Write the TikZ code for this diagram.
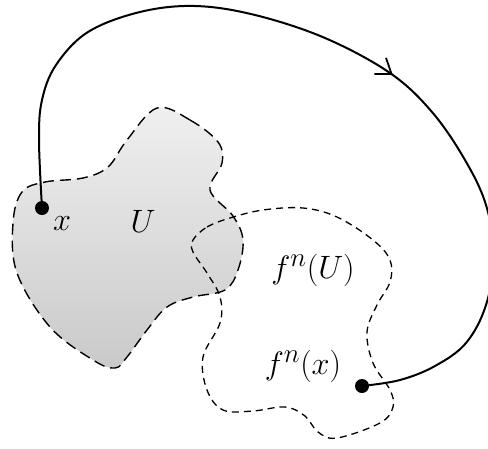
\documentclass[tikz,border=0pt]{standalone}
\usetikzlibrary{arrows.meta,decorations.markings}
\begin{document}
\begin{tikzpicture}[x=1pt,y=-1pt,
  regionU/.style={draw=black, line width=1.4pt, dash pattern=on 11pt off 6pt, top color=gray!12, bottom color=gray!42},
  regionF/.style={draw=black, line width=1.3pt, dash pattern=on 7pt off 5pt},
  dotnode/.style={circle, fill=black, inner sep=0pt, minimum size=14pt},
  lbl/.style={font=\Huge, scale=1.3, inner sep=0pt},
  orbit/.style={line width=2pt, postaction=decorate, decoration={markings, mark=at position 0.55 with {\arrow{Straight Barb[length=14pt,width=20pt,line width=1.8pt]}}}}]
\useasboundingbox (0,0) rectangle (488,448);
% region U
\path[regionU] plot[smooth cycle, tension=0.6] coordinates {
  (157,108) (190,120) (218,142) (222,163) (210,190) (233,216) (243,240)
  (238,270) (225,290) (193,297) (167,307) (147,330) (127,357) (115,368)
  (93,360) (50,327) (17,273) (13,223) (22,192) (45,182) (83,178) (108,167) (127,140)};
% region f^n(U)
\draw[regionF] plot[smooth cycle, tension=0.6] coordinates {
  (193,240) (207,227) (230,218) (263,210) (303,208) (337,217) (373,240)
  (390,260) (390,282) (377,305) (367,332) (373,363) (390,390) (393,407)
  (380,423) (337,438) (318,432) (305,416) (285,407) (253,411) (223,410)
  (207,390) (203,357) (220,323) (220,297) (207,273) (193,252)};
% points
\node[dotnode] (px) at (42,208) {};
\node[dotnode] (pfx) at (362,386) {};
% orbit
\draw[orbit] plot[smooth, tension=0.6] coordinates {
  (px.center) (39,140) (42,100) (56,65) (88,32) (140,12) (195,6) (255,15)
  (325,38) (390,73) (432,112) (465,160) (486,205) (494,255) (486,305)
  (466,343) (435,366) (400,380) (pfx.center)};
% labels
\node[lbl] (lx) at (62,224) {$x$};
\node[lbl] (lU) at (143,221) {$U$};
\node[lbl] (lfU) at (313,270) {$f^{n}(U)$};
\node[lbl] (lfx) at (303,366) {$f^{n}(x)$};
\end{tikzpicture}
\end{document}
